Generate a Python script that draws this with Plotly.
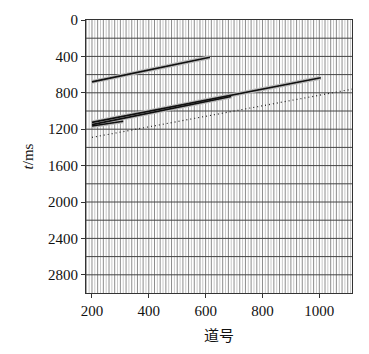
import plotly.graph_objects as go

# Event lines (trace number, time in ms)
e1_trace = [200, 615]
e1_time = [680, 410]
e2_trace = [200, 1005]
e2_time = [1125, 635]
e3_trace = [200, 690]
e3_time = [1150, 840]
e4_trace = [200, 310]
e4_time = [1165, 1112]
dot_trace = [200, 1115]
dot_time = [1290, 760]

x_ticks = [200, 400, 600, 800, 1000]
y_ticks = [0, 400, 800, 1200, 1600, 2000, 2400, 2800]

XMIN, XMAX = 179, 1115
YMIN, YMAX = 0, 3000

fig = go.Figure()

def vlines(xs):
    X, Y = [], []
    for x in xs:
        X += [x, x, None]
        Y += [YMIN, YMAX, None]
    return X, Y

light = [x for x in range(180, 1115, 10) if x % 20 != 0]
dark = [x for x in range(180, 1115, 10) if x % 20 == 0]
X, Y = vlines(light)
fig.add_trace(go.Scatter(x=X, y=Y, mode="lines", line=dict(color="#c8c8c8", width=1), hoverinfo="skip"))
X, Y = vlines(dark)
fig.add_trace(go.Scatter(x=X, y=Y, mode="lines", line=dict(color="#8c8c8c", width=1), hoverinfo="skip"))

HX, HY = [], []
for t in range(200, 3000, 200):
    HX += [XMIN, XMAX, None]
    HY += [t, t, None]
fig.add_trace(go.Scatter(x=HX, y=HY, mode="lines", line=dict(color="#444444", width=1), hoverinfo="skip"))

events = [(e1_trace, e1_time), (e2_trace, e2_time), (e3_trace, e3_time), (e4_trace, e4_time)]
for tr, tm in events:
    fig.add_trace(go.Scatter(x=tr, y=tm, mode="lines", line=dict(color="#bbbbbb", width=4), hoverinfo="skip"))
for tr, tm in events:
    fig.add_trace(go.Scatter(x=tr, y=tm, mode="lines", line=dict(color="#111111", width=1.6), hoverinfo="skip"))

fig.add_trace(go.Scatter(x=dot_trace, y=dot_time, mode="lines",
                         line=dict(color="#222222", width=1.2, dash="1px,3px"), hoverinfo="skip"))

SERIF = "Liberation Serif"
fig.update_layout(
    width=369, height=354,
    margin=dict(l=86, r=17, t=12, b=52),
    paper_bgcolor="white", plot_bgcolor="white",
    showlegend=False,
    font=dict(family=SERIF, size=15, color="#111"),
)
fig.update_xaxes(
    range=[XMIN, XMAX], tickvals=x_ticks, ticktext=[str(v) for v in x_ticks],
    tickfont=dict(family=SERIF, size=15),
    showgrid=False, zeroline=False, showline=True, linecolor="#333", linewidth=1, mirror=True,
    ticks="outside", ticklen=4, tickcolor="#333",
    title=dict(text="道号", font=dict(family="Noto Sans CJK SC", size=15), standoff=12),
)
fig.update_yaxes(
    range=[YMAX, YMIN], tickvals=y_ticks, ticktext=[str(v) for v in y_ticks],
    tickfont=dict(family=SERIF, size=15),
    showgrid=False, zeroline=False, showline=True, linecolor="#333", linewidth=1, mirror=True,
    ticks="outside", ticklen=4, tickcolor="#333",
    title=dict(text="<i>t</i>/ms", font=dict(family=SERIF, size=15), standoff=10),
)

fig.write_html("out.html")
